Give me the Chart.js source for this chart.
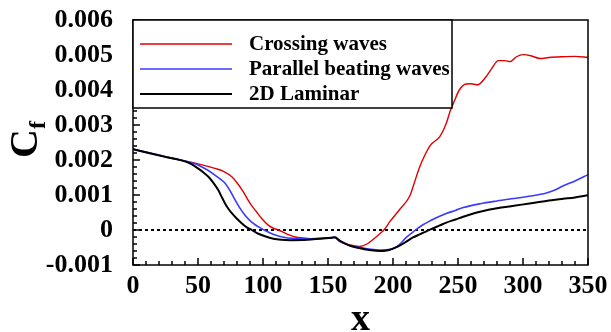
<!DOCTYPE html>
<html>
<head>
<meta charset="utf-8">
<script src="https://cdn.jsdelivr.net/npm/chart.js@4.4.1/dist/chart.umd.min.js"></script>
<style>
  html, body { margin: 0; padding: 0; background: #fff; }
</style>
</head>
<body>
<canvas id="cf" width="611" height="332"></canvas>
<script>
// skin friction along the plate, three cases
const xCross = [0, 20, 30, 40, 50, 63, 70, 76, 80, 84, 87.5, 91, 95, 99, 104, 108, 112, 116, 120, 125,
  131, 136, 145, 155, 159, 167, 174, 180, 186, 190, 193, 198, 205, 213, 216, 220, 224, 229, 236, 241,
  244, 247, 251, 256, 260, 265, 272, 276, 281, 286, 290, 295, 300, 306, 313, 320, 330, 340, 350];
const cfCross = [0.00231, 0.00214, 0.00205, 0.00197, 0.00189, 0.00176, 0.00167, 0.00152, 0.00135, 0.00114,
  0.00092, 0.00071, 0.00052, 0.00033, 0.00014, 0.00005, 0.0, -0.00007, -0.00014, -0.0002,
  -0.00023, -0.00025, -0.00024, -0.00021, -0.00033, -0.00043, -0.00047, -0.0004, -0.00023, -0.0001,
  0.0, 0.00026, 0.00058, 0.00098, 0.0013, 0.00175, 0.0021, 0.00243, 0.00267, 0.00305,
  0.0034, 0.00367, 0.004, 0.00417, 0.00418, 0.00415, 0.0044, 0.00462, 0.00484, 0.00484,
  0.00481, 0.00495, 0.00501, 0.00498, 0.0049, 0.00493, 0.00495, 0.00496, 0.00493];

const xParallel = [0, 20, 30, 40, 50, 57, 63, 67, 71, 75, 78.5, 82, 86, 90, 94, 98, 102, 106, 110, 115,
  123, 136, 146, 155, 159, 167, 175, 183, 190, 197, 202, 206, 210, 214, 218, 223, 229, 235, 241, 248,
  254, 267, 280, 293, 306, 318, 325, 332, 340, 350];
const cfParallel = [0.00231, 0.00214, 0.00205, 0.00197, 0.00186, 0.00172, 0.00157, 0.00146, 0.00133, 0.0011,
  0.00086, 0.00064, 0.00043, 0.00027, 0.00015, 0.00006, -0.00002, -0.00009, -0.00015, -0.0002,
  -0.00024, -0.00025, -0.00024, -0.00021, -0.00032, -0.00044, -0.0005, -0.00055, -0.00057, -0.00056,
  -0.0005, -0.00038, -0.00022, -0.0001, 0.00002, 0.00015, 0.00027, 0.00038, 0.00047, 0.00056,
  0.00064, 0.00075, 0.00083, 0.0009, 0.00097, 0.00106, 0.00115, 0.00128, 0.0014, 0.00158];

const xLaminar = [0, 12, 24.6, 40, 45, 50, 54, 58, 62, 65.6, 68, 70.8, 73.5, 76, 80, 83.6, 87, 91.3, 96, 101.5,
  108, 114, 121, 134, 146, 151, 155.4, 159, 163, 167, 177, 187, 192, 197, 204, 210, 215, 221, 226, 231,
  236, 241, 248, 254, 260, 267, 280, 293, 305, 318, 331, 340, 350];
const cfLaminar = [0.00231, 0.0022, 0.00209, 0.00196, 0.00188, 0.00176, 0.00165, 0.00152, 0.00134, 0.00114,
  0.00096, 0.00076, 0.0006, 0.00048, 0.00032, 0.00019, 0.00009, 0.0, -0.0001, -0.00018,
  -0.00025, -0.00028, -0.00029, -0.00028, -0.00024, -0.00023, -0.00021, -0.0003, -0.00038, -0.00045,
  -0.00054, -0.00059, -0.0006, -0.00057, -0.00047, -0.00034, -0.00022, -0.00012, -0.00003, 0.00005,
  0.00013, 0.00021, 0.0003, 0.00038, 0.00045, 0.00052, 0.00062, 0.00069, 0.00076, 0.00083,
  0.00089, 0.00093, 0.00099];

const xZero = [0, 350];
const cfZero = [0, 0];

const labels = ['Crossing waves', 'Parallel beating waves', '2D Laminar'];

const pts = (xs, ys) => xs.map((x, i) => ({ x, y: ys[i] }));

const serif = 'Liberation Serif';

const curve = (label, xs, ys, color, width, order) => ({
  label,
  data: pts(xs, ys),
  borderColor: color,
  borderWidth: width,
  pointRadius: 0,
  cubicInterpolationMode: 'monotone',
  fill: false,
  order
});

// frame, inward ticks, legend box and axis titles
const decor = {
  id: 'decor',
  afterDraw(chart) {
    const { ctx, chartArea: a, scales: { x, y } } = chart;
    ctx.save();
    ctx.strokeStyle = '#000';
    ctx.lineWidth = 1.5;
    ctx.beginPath();
    for (let v = 0; v <= 350; v += 10) {
      const px = x.getPixelForValue(v);
      const len = v % 50 === 0 ? 7 : 4;
      ctx.moveTo(px, a.bottom);
      ctx.lineTo(px, a.bottom - len);
    }
    for (let i = -10; i <= 60; i += 2) {
      const py = y.getPixelForValue(i / 10000);
      const len = i % 10 === 0 ? 7 : 4;
      ctx.moveTo(a.left, py);
      ctx.lineTo(a.left + len, py);
    }
    ctx.stroke();
    ctx.strokeRect(a.left, a.top, a.right - a.left, a.bottom - a.top);

    // legend
    const bx = a.left, by = a.top, bw = 319, bh = 88;
    ctx.fillStyle = '#fff';
    ctx.fillRect(bx, by, bw, bh);
    ctx.strokeRect(bx, by, bw, bh);
    ctx.font = 'bold 21px "' + serif + '"';
    ctx.textBaseline = 'middle';
    ctx.textAlign = 'left';
    ctx.fillStyle = '#000';
    [0, 1, 2].forEach((di, row) => {
      const ds = chart.data.datasets[di];
      const ly = by + 24 + row * 25;
      ctx.strokeStyle = ds.borderColor;
      ctx.lineWidth = ds.borderWidth;
      ctx.beginPath();
      ctx.moveTo(bx + 7, ly);
      ctx.lineTo(bx + 99, ly);
      ctx.stroke();
      ctx.fillText(ds.label, bx + 116, ly + 1);
    });

    // axis titles
    ctx.fillStyle = '#000';
    ctx.textAlign = 'center';
    ctx.textBaseline = 'alphabetic';
    ctx.font = 'bold 38px "' + serif + '"';
    ctx.fillText('x', (a.left + a.right) / 2, 330);

    ctx.translate(37, 143);
    ctx.rotate(-Math.PI / 2);
    ctx.textAlign = 'left';
    ctx.font = 'bold 40px "' + serif + '"';
    ctx.fillText('C', -15, 0);
    ctx.font = 'bold 24px "' + serif + '"';
    ctx.fillText('f', 14, 8);
    ctx.restore();
  }
};

new Chart(document.getElementById('cf'), {
  type: 'line',
  data: {
    datasets: [
      curve(labels[0], xCross, cfCross, '#e00000', 1.4, 2),
      curve(labels[1], xParallel, cfParallel, '#3a3aff', 1.6, 1),
      curve(labels[2], xLaminar, cfLaminar, '#000000', 2, 0),
      {
        label: 'zero',
        data: pts(xZero, cfZero),
        borderColor: '#000',
        borderWidth: 2,
        borderDash: [3, 3],
        pointRadius: 0,
        order: 3
      }
    ]
  },
  options: {
    responsive: false,
    animation: false,
    events: [],
    layout: { padding: { left: 0, top: 20, right: 23, bottom: 0 } },
    plugins: { legend: { display: false }, tooltip: { enabled: false } },
    scales: {
      x: {
        type: 'linear',
        min: 0,
        max: 350,
        grid: { display: false },
        border: { display: false },
        ticks: {
          stepSize: 50,
          padding: -2,
          color: '#000',
          font: { family: serif, size: 26, weight: 'bold' }
        },
        afterFit(s) { s.height = 67; }
      },
      y: {
        min: -0.001,
        max: 0.006,
        grid: { display: false },
        border: { display: false },
        ticks: {
          stepSize: 0.001,
          autoSkip: false,
          padding: 12,
          color: '#000',
          font: { family: serif, size: 26, weight: 'bold', lineHeight: 0.6 },
          callback: v => {
            const r = Math.round(v * 1000);
            return r === 0 ? '0' : (r / 1000).toFixed(3);
          }
        },
        afterFit(s) { s.width = 133; }
      }
    }
  },
  plugins: [decor]
});
</script>
</body>
</html>
